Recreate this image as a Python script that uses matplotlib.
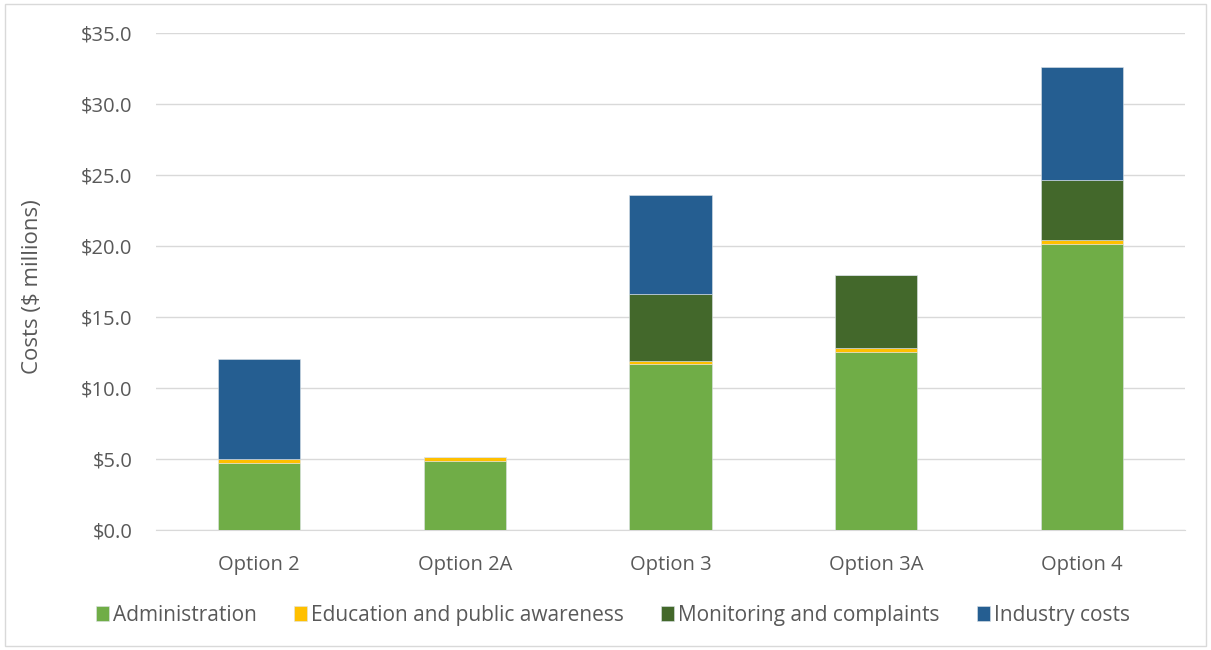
import numpy as np
import matplotlib.pyplot as plt
from matplotlib.patches import Rectangle

# ----- data ($ millions) -----
OPTIONS = ["Option 2", "Option 2A", "Option 3", "Option 3A", "Option 4"]
ADMINISTRATION = [4.74, 4.88, 11.71, 12.56, 20.12]
EDUCATION = [0.26, 0.26, 0.21, 0.26, 0.32]
MONITORING = [0.0, 0.0, 4.68, 5.14, 4.21]
INDUSTRY = [7.02, 0.0, 7.0, 0.0, 7.95]

SERIES = [
    ("Administration", ADMINISTRATION, "#70AD47"),
    ("Education and public awareness", EDUCATION, "#FFC000"),
    ("Monitoring and complaints", MONITORING, "#43682B"),
    ("Industry costs", INDUSTRY, "#255E91"),
]

TEXT_COLOR = "#595959"
plt.rcParams["font.family"] = ["Open Sans", "DejaVu Sans"]

fig = plt.figure(figsize=(12.11, 6.5), dpi=100)
ax = fig.add_axes([0.129, 0.1846, 0.8495, 0.7644])

x = np.arange(len(OPTIONS))
bottom = np.zeros(len(OPTIONS))
for label, values, color in SERIES:
    vals = np.array(values)
    ax.bar(x, vals, width=0.4, bottom=bottom, color=color, label=label,
           edgecolor="#dde3e8", linewidth=0.4, zorder=3)
    bottom += vals

ax.set_xlim(-0.5, len(OPTIONS) - 0.5)
ax.set_ylim(0, 35)
ax.set_yticks(np.arange(0, 36, 5))
ax.yaxis.set_major_formatter(lambda v, pos: f"${v:.1f}")
ax.set_xticks(x, OPTIONS)
ax.grid(axis="y", color="#D9D9D9", linewidth=1, zorder=0)
ax.tick_params(length=0, labelsize=14.5, colors=TEXT_COLOR)
ax.tick_params(axis="x", pad=18)
ax.tick_params(axis="y", pad=17)
for side in ["top", "right", "left"]:
    ax.spines[side].set_visible(False)
ax.spines["bottom"].set_color("#D9D9D9")
ax.set_ylabel("Costs ($ millions)", fontsize=16, color=TEXT_COLOR)
ax.yaxis.set_label_coords(-0.1098, 0.489)

ax.legend(loc="center", bbox_to_anchor=(0.444, -0.172), ncol=4, frameon=False,
          fontsize=15, labelcolor=TEXT_COLOR, handlelength=0.6, handleheight=0.7,
          handletextpad=0.2, columnspacing=1.8)

# chart border
fig.add_artist(Rectangle((0.004, 0.006), 0.992, 0.988, transform=fig.transFigure,
                         fill=False, edgecolor="#D9D9D9", linewidth=1))

fig.savefig("out.png", dpi=100)
